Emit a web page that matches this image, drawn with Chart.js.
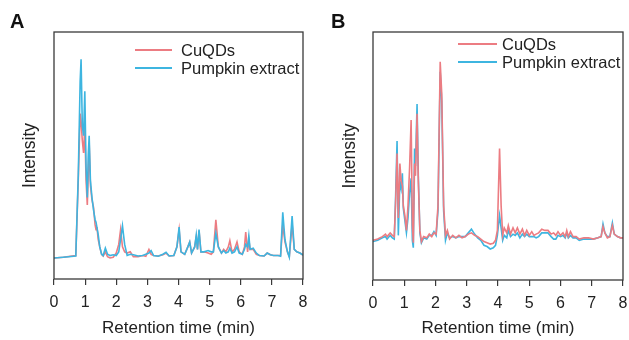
<!DOCTYPE html>
<html>
<head>
<meta charset="utf-8">
<script src="https://cdn.jsdelivr.net/npm/chart.js@4.4.1/dist/chart.umd.min.js"></script>
<style>
  body { margin: 0; background: #fff; }
  #wrap { position: relative; width: 629px; height: 340px; font-family: "Liberation Sans", Arial, sans-serif; color: #222; }
  canvas { position: absolute; top: 0; }
  .letter { position: absolute; font-weight: bold; font-size: 20px; line-height: 20px; color: #111; }
  .leg { position: absolute; font-size: 16.5px; line-height: 18px; white-space: nowrap; }
  .swatch { position: absolute; height: 1.5px; }
</style>
</head>
<body>
<div id="wrap">
  <canvas id="chartA" width="315" height="340" style="left:0"></canvas>
  <canvas id="chartB" width="314" height="340" style="left:315px"></canvas>

  <div class="letter" style="left:10px; top:11px">A</div>
  <div class="letter" style="left:331px; top:11px">B</div>

  <!-- legend A -->
  <div class="swatch" style="left:135px; top:49px; width:37px; background:#ec7c82"></div>
  <div class="leg" style="left:181px; top:41px">CuQDs</div>
  <div class="swatch" style="left:135px; top:67px; width:37px; background:#3db5e0"></div>
  <div class="leg" style="left:181px; top:59px">Pumpkin extract</div>

  <!-- legend B -->
  <div class="swatch" style="left:458px; top:43px; width:39px; background:#ec7c82"></div>
  <div class="leg" style="left:502px; top:35px">CuQDs</div>
  <div class="swatch" style="left:458px; top:61px; width:39px; background:#3db5e0"></div>
  <div class="leg" style="left:502px; top:53px">Pumpkin extract</div>
</div>

<script>
// Panel A: retention time (min) and relative intensity
const timeA = [0, 0.3, 0.7, 0.78, 0.84, 0.87, 0.91, 0.95, 0.99, 1.03, 1.07, 1.1, 1.13, 1.17, 1.22, 1.27, 1.32, 1.35, 1.38, 1.42,
  1.47, 1.53, 1.58, 1.65, 1.72, 1.8, 1.9, 2.0, 2.08, 2.14, 2.2, 2.27, 2.35, 2.45, 2.55, 2.7, 2.85, 2.95, 3.05, 3.12,
  3.2, 3.35, 3.5, 3.6, 3.7, 3.85, 3.95, 4.02, 4.08, 4.2, 4.3, 4.36, 4.42, 4.52, 4.57, 4.61, 4.66, 4.72, 4.82, 4.95,
  5.05, 5.12, 5.2, 5.28, 5.38, 5.45, 5.52, 5.6, 5.65, 5.72, 5.8, 5.88, 5.95, 6.05, 6.12, 6.16, 6.22, 6.26, 6.3, 6.4,
  6.5, 6.6, 6.75, 6.85, 6.95, 7.05, 7.2, 7.28, 7.35, 7.42, 7.5, 7.56, 7.65, 7.72, 7.8, 7.9, 8.0];
const cuqdsA = [8.5, 8.8, 9.5, 40, 67, 64, 56, 51, 62, 40, 30, 42, 55, 38, 32, 29, 22, 20, 21, 16,
  13, 10, 9.3, 11, 9, 8.5, 8.8, 10.5, 14, 20, 13, 11, 10.5, 11, 9, 9, 9.5, 9.2, 12, 10,
  9.5, 9.3, 9.8, 10.5, 9.3, 9.5, 13, 20, 11, 10, 13, 15, 10.5, 13, 17, 12, 19.5, 11, 11, 10.5,
  10, 11, 24, 13, 10.5, 12, 11, 13, 15.5, 11, 12, 15, 11, 10, 13, 19, 11, 16, 12, 12,
  10, 9.5, 9.3, 10.5, 9.8, 9.5, 9.5, 9.5, 22, 15, 11, 9, 22, 12, 11, 10.5, 9.7];
const pumpkinA = [8.5, 8.8, 9.3, 42, 80, 89, 62, 58, 76, 45, 33, 50, 58, 40, 33, 28, 24, 23, 23, 18,
  13, 10, 9.5, 12.5, 10, 9.5, 9.8, 9.5, 11, 16, 21.5, 14, 9.5, 10, 9.8, 9.3, 9.5, 10, 10.5, 11.5,
  9.5, 9.2, 10, 10.8, 9.3, 9.5, 13, 21, 11, 10, 13, 15, 10.5, 13, 17.8, 12, 20, 11, 11, 11.5,
  11, 11, 18.6, 13, 10.5, 11.5, 10.5, 11, 12.5, 10.5, 11, 13, 10.5, 10, 12, 14, 13, 17.4, 12, 12.5,
  10.5, 9.5, 9.3, 10.5, 9.8, 9.5, 9.5, 9.2, 27, 16, 11, 8.8, 25.5, 12, 11, 10.5, 9.7];

// Panel B
const timeB = [0, 0.15, 0.3, 0.4, 0.45, 0.55, 0.62, 0.68, 0.72, 0.77, 0.81, 0.86, 0.9, 0.94, 0.97, 1.02, 1.07, 1.12, 1.17, 1.22,
  1.26, 1.29, 1.33, 1.36, 1.41, 1.45, 1.5, 1.55, 1.62, 1.72, 1.8, 1.88, 1.95, 2.02, 2.08, 2.15, 2.2, 2.26, 2.32, 2.38,
  2.45, 2.55, 2.65, 2.75, 2.85, 2.95, 3.05, 3.15, 3.25, 3.35, 3.45, 3.55, 3.65, 3.75, 3.85, 3.92, 3.98, 4.05, 4.1, 4.15,
  4.2, 4.28, 4.33, 4.4, 4.48, 4.55, 4.62, 4.7, 4.78, 4.85, 4.92, 5.0, 5.08, 5.15, 5.22, 5.3, 5.4, 5.5, 5.6, 5.7,
  5.78, 5.85, 5.92, 6.0, 6.08, 6.15, 6.2, 6.25, 6.32, 6.4, 6.5, 6.6, 6.75, 6.9, 7.05, 7.2, 7.3, 7.36, 7.42, 7.5,
  7.58, 7.66, 7.72, 7.82, 7.92, 8.0];
const cuqdsB = [16, 16.5, 17.5, 18.5, 17.5, 19, 18, 17.5, 30, 51, 25, 47, 40, 38, 30, 26, 20, 30, 45, 64.5,
  22, 15, 47, 42, 67, 40, 20, 15.5, 17.5, 17, 18.5, 17.5, 19, 18.5, 30, 88, 75, 30, 18, 20,
  16.5, 18, 17, 18, 17, 17.5, 18.5, 19, 18, 17.5, 16.5, 15.5, 15, 14.5, 14.8, 16, 20, 53, 30, 18,
  21, 19, 22, 18.5, 21, 19, 21, 18.5, 20.5, 18, 20, 18, 19.5, 18, 18.5, 19, 20.5, 20, 20, 18.5,
  19, 18, 19.5, 18, 19, 17.5, 20, 17.5, 19.5, 17.5, 17.5, 16.5, 17, 17, 16.5, 17, 17.5, 21.5, 19, 17,
  17.5, 22, 18.5, 17.5, 17, 17];
const pumpkinB = [15.5, 16, 17, 17.5, 16.5, 18, 17, 16.5, 32, 56, 18, 40, 37, 43, 29, 24, 19, 25, 35, 41,
  16, 13, 53, 46, 71, 42, 19, 15, 17, 16.5, 18, 18, 19.5, 18, 28, 84, 72, 28, 16, 19,
  17, 17.5, 17, 17.5, 17.5, 17.5, 19, 20.5, 18.5, 17, 16, 14, 13.5, 12.5, 13, 14, 18, 26, 21, 16,
  18, 17, 20, 17.5, 18.5, 18, 19, 17, 18.5, 17.5, 18.5, 17.5, 17.5, 17.5, 17, 17.5, 19, 19, 19, 17.5,
  16.5, 16.5, 18, 17.5, 18, 17, 19, 17, 18, 17, 17, 16, 16.5, 16.5, 16.5, 17, 17.5, 22.6, 19, 17.5,
  17.5, 23, 18.5, 17.5, 17, 17];

const xTicks = [0, 1, 2, 3, 4, 5, 6, 7, 8];
const RED = '#ec7c82';
const BLUE = '#3db5e0';
const AXIS = '#3a3a3a';
const FONT = '"Liberation Sans", Arial, sans-serif';

const pts = (xs, ys) => xs.map((x, i) => ({ x: x, y: ys[i] }));

// frame around the plot area
const boxPlugin = {
  id: 'box',
  afterDraw(chart) {
    const a = chart.chartArea;
    const ctx = chart.ctx;
    ctx.save();
    ctx.strokeStyle = AXIS;
    ctx.lineWidth = 1.3;
    ctx.strokeRect(a.left, a.top, a.right - a.left, a.bottom - a.top);
    ctx.restore();
  }
};

function makeChart(id, red, blue, redOnTop, yWidth, xHeight, padRight, yTitlePad) {
  return new Chart(document.getElementById(id), {
    type: 'line',
    data: {
      datasets: [
        { label: 'CuQDs', data: red, borderColor: RED, borderWidth: 1.6, pointRadius: 0, tension: 0, order: redOnTop ? 0 : 1 },
        { label: 'Pumpkin extract', data: blue, borderColor: BLUE, borderWidth: 1.6, pointRadius: 0, tension: 0, order: redOnTop ? 1 : 0 }
      ]
    },
    options: {
      responsive: false,
      animation: false,
      layout: { padding: { top: 32, right: padRight, left: 0, bottom: 0 } },
      plugins: { legend: { display: false }, tooltip: { enabled: false } },
      scales: {
        x: {
          type: 'linear', min: 0, max: 8,
          afterBuildTicks: s => { s.ticks = xTicks.map(v => ({ value: v })); },
          // fixed height, and no extra side padding for the end labels
          afterFit: s => { s.height = xHeight; s.paddingLeft = 0; s.paddingRight = 0; },
          border: { display: false },
          grid: { display: true, drawOnChartArea: false, drawTicks: true, tickLength: 6, color: AXIS, lineWidth: 1.2 },
          ticks: { color: '#222', padding: 8, font: { family: FONT, size: 16 } },
          title: { display: true, text: 'Retention time (min)', color: '#222', padding: { top: 0, bottom: 1 }, font: { family: FONT, size: 17 } }
        },
        y: {
          min: 0, max: 100,
          afterFit: s => { s.width = yWidth; },
          border: { display: false },
          grid: { display: false },
          ticks: { display: false },
          title: { display: true, text: 'Intensity', color: '#222', padding: { top: yTitlePad, bottom: 0 }, font: { family: FONT, size: 17.5 } }
        }
      }
    },
    plugins: [boxPlugin]
  });
}

makeChart('chartA', pts(timeA, cuqdsA), pts(timeA, pumpkinA), false, 54, 61, 12, 20);
makeChart('chartB', pts(timeB, cuqdsB), pts(timeB, pumpkinB), true, 58, 60, 6, 25);
</script>
</body>
</html>
